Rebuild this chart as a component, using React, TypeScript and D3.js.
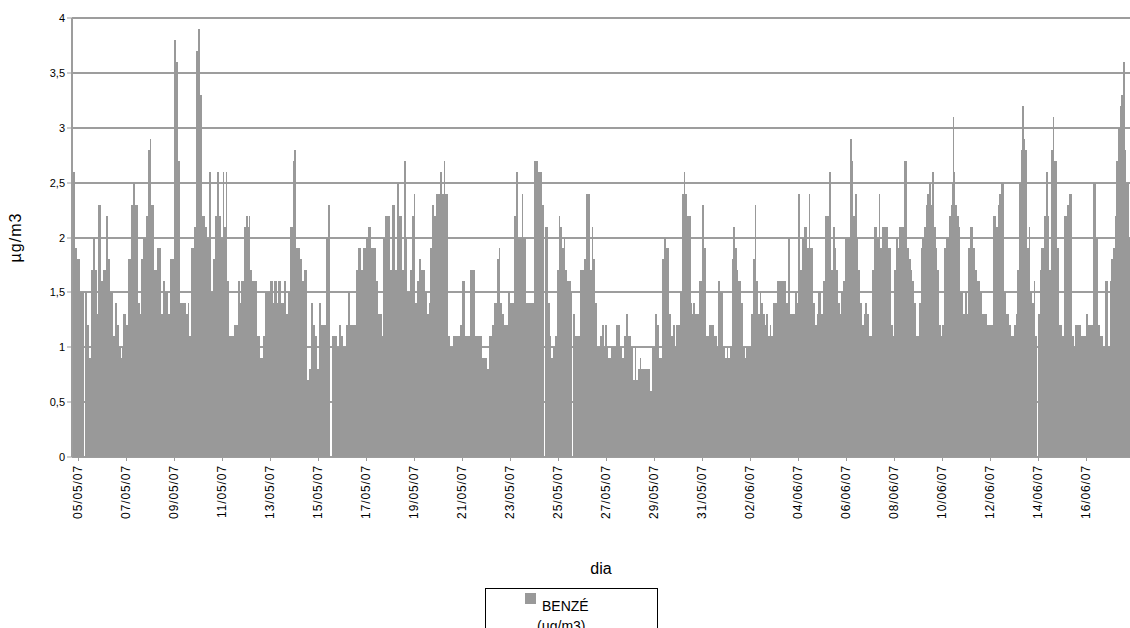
import React from "react";
import * as d3 from "d3";

// Hourly benzene concentration (µg/m3), split into blocks of consecutive hours.
const block01 = [
  2.6, 2.6, 2.6, 1.9, 1.9, 1.8, 1.8, 1.8, 1.5, 1.5,
  1.5, 1.5, 0, 1.5, 1.5, 1.2, 1.2, 0.9, 0.9, 1.7,
  1.7, 2.0, 2.0, 1.7, 1.7, 1.3, 2.3, 2.3, 2.3, 1.6,
  1.6, 1.7, 1.7, 1.7, 2.2, 2.2, 1.8, 1.8, 1.5, 1.5,
  1.5, 1.1, 1.1, 1.4, 1.4, 1.2, 1.2, 1.0, 1.0, 0.9,
  1.0, 1.3, 1.3, 1.3, 1.2, 1.2, 1.8, 1.8, 1.8, 2.3,
  2.3, 2.5, 2.5, 2.3, 2.3, 2.3, 1.4, 1.4, 1.3, 1.8,
  1.8, 2.0, 2.0, 2.0, 2.2, 2.2, 2.8, 2.8, 2.9, 2.3,
  2.3, 2.3, 1.7, 1.7, 1.7, 1.9, 1.9, 1.9,
];
const block02 = [
  1.9, 1.3, 1.3, 1.6, 1.6, 1.5, 1.5, 1.5, 1.3, 1.3,
  1.8, 1.8, 1.8, 1.8, 3.8, 3.8, 3.6, 3.6, 2.7, 2.7,
  1.4, 1.4, 1.4, 1.4, 1.4, 1.4, 1.3, 1.3, 1.4, 1.1,
  1.1, 1.9, 1.9, 1.9, 2.1, 2.1, 3.7, 3.7, 3.9, 3.9,
  3.3, 3.3, 2.2, 2.2, 2.2, 2.1, 2.1, 2.0, 2.0, 2.6,
  2.6, 1.5, 1.5, 1.8, 1.8, 2.2, 2.2, 2.6, 2.6, 2.2,
  2.2, 2.0, 2.0, 2.6, 2.1, 2.1, 2.6, 1.6, 1.6, 1.1,
  1.1, 1.1, 1.1, 1.1, 1.2, 1.2, 1.2, 1.2, 1.6, 1.6,
  1.4, 1.6, 1.6, 1.6, 2.1, 2.1, 2.2, 2.2,
];
const block03 = [
  2.1, 2.2, 1.7, 1.7, 1.6, 1.6, 1.6, 1.6, 1.6, 1.1,
  1.1, 1.1, 0.9, 0.9, 0.9, 1.1, 1.1, 1.5, 1.5, 1.5,
  1.5, 1.5, 1.6, 1.6, 1.6, 1.4, 1.6, 1.6, 1.6, 1.4,
  1.6, 1.6, 1.6, 1.4, 1.4, 1.4, 1.6, 1.6, 1.3, 1.3,
  1.5, 1.5, 2.1, 2.1, 2.1, 2.7, 2.8, 2.8, 1.9, 1.9,
  1.9, 1.9, 1.8, 1.8, 1.6, 1.6, 1.7, 1.7, 1.7, 0.7,
  0.7, 0.8, 0.8, 1.4, 1.4, 1.2, 1.2, 1.1, 1.1, 0.8,
  0.8, 1.4, 1.4, 1.2, 1.2, 1.2, 1.2, 1.2, 2.0, 2.0,
  2.3, 2.3, 0, 0, 1.1, 1.1, 1.1, 1.1,
];
const block04 = [
  1.1, 1.0, 1.0, 1.2, 1.2, 1.1, 1.1, 1.0, 1.0, 1.0,
  1.2, 1.2, 1.5, 1.5, 1.2, 1.2, 1.2, 1.2, 1.2, 1.2,
  1.7, 1.7, 1.9, 1.9, 1.9, 1.7, 1.7, 1.9, 1.9, 1.9,
  2.0, 2.0, 2.1, 2.1, 2.1, 1.9, 1.9, 1.9, 1.9, 1.9,
  1.6, 1.6, 1.3, 1.3, 1.3, 1.3, 1.1, 2.0, 2.0, 2.2,
  2.2, 2.2, 2.2, 2.2, 1.7, 1.7, 2.3, 2.3, 2.3, 1.7,
  1.7, 2.5, 2.5, 2.2, 2.2, 2.2, 1.7, 1.7, 2.7, 2.7,
  2.0, 1.5, 1.5, 1.5, 1.7, 1.7, 2.2, 2.2, 2.4, 1.4,
  1.4, 1.6, 1.6, 1.8, 1.8, 1.7, 1.7, 1.7,
];
const block05 = [
  1.7, 1.5, 1.5, 1.3, 1.3, 1.4, 1.9, 1.9, 2.3, 2.3,
  2.2, 2.2, 2.4, 2.4, 2.4, 2.4, 2.6, 2.6, 2.4, 2.4,
  2.7, 2.4, 2.4, 2.4, 1.1, 1.1, 1.0, 1.0, 1.0, 1.1,
  1.1, 1.1, 1.1, 1.1, 1.1, 1.1, 1.2, 1.2, 1.6, 1.6,
  1.6, 1.1, 1.1, 1.1, 1.1, 1.1, 1.7, 1.7, 1.7, 1.7,
  1.7, 1.1, 1.1, 1.1, 1.1, 1.1, 1.1, 1.1, 0.9, 0.9,
  0.9, 0.9, 0.9, 0.8, 0.8, 1.1, 1.1, 1.1, 1.2, 1.2,
  1.4, 1.4, 1.4, 1.8, 1.8, 1.9, 1.4, 1.4, 1.3, 1.3,
  1.2, 1.2, 1.2, 1.2, 1.5, 1.5, 1.4, 1.4,
];
const block06 = [
  1.4, 1.4, 2.2, 2.2, 2.6, 2.6, 2.0, 2.0, 2.0, 2.0,
  2.4, 2.0, 2.0, 2.0, 1.4, 1.4, 1.4, 1.4, 1.4, 1.4,
  1.4, 1.4, 2.7, 2.7, 2.7, 2.7, 2.6, 2.6, 2.6, 2.6,
  2.3, 2.3, 0, 2.1, 2.1, 2.1, 1.4, 1.4, 1.1, 0.9,
  0.9, 1.0, 1.0, 1.1, 1.1, 1.7, 1.7, 2.2, 2.1, 2.1,
  1.9, 1.9, 2.0, 1.7, 1.7, 1.6, 1.6, 1.6, 1.6, 1.5,
  0, 1.3, 1.3, 1.1, 1.1, 1.1, 1.1, 1.1, 1.7, 1.7,
  1.7, 1.7, 1.8, 1.8, 2.4, 2.4, 2.4, 2.4, 1.7, 1.7,
  2.1, 1.8, 1.8, 1.4, 1.4, 1.0, 1.0, 1.0,
];
const block07 = [
  1.1, 1.1, 1.2, 1.2, 1.0, 1.2, 1.2, 1.0, 0.9, 0.9,
  0.9, 1.0, 1.0, 1.0, 1.0, 1.0, 1.2, 1.2, 1.2, 1.2,
  1.0, 1.0, 0.9, 0.9, 1.1, 1.1, 1.3, 1.3, 1.1, 1.1,
  1.1, 1.0, 1.0, 0.7, 0.7, 1.0, 0.7, 0.7, 0.8, 0.8,
  0.9, 0.8, 0.8, 0.8, 0.8, 0.8, 0.8, 0.8, 0.8, 0.8,
  0.6, 0.6, 1.0, 1.0, 1.0, 1.3, 1.3, 1.2, 1.2, 0.9,
  0.9, 0.9, 1.8, 1.8, 2.0, 2.0, 1.9, 1.9, 1.9, 1.3,
  1.3, 1.1, 1.1, 1.2, 1.2, 1.0, 1.2, 1.2, 1.2, 1.2,
  1.5, 1.5, 2.4, 2.4, 2.6, 2.4, 2.4, 2.2,
];
const block08 = [
  2.2, 2.2, 2.2, 1.4, 1.3, 1.4, 1.4, 1.3, 1.3, 1.3,
  1.3, 1.6, 1.6, 1.6, 2.3, 2.3, 1.9, 1.9, 1.1, 1.1,
  1.1, 1.2, 1.2, 1.2, 1.2, 1.2, 1.1, 1.1, 1.1, 1.0,
  1.6, 1.6, 1.5, 1.5, 1.5, 1.0, 1.0, 0.9, 0.9, 1.0,
  0.9, 0.9, 1.0, 1.0, 1.8, 2.1, 2.1, 1.9, 1.9, 1.7,
  1.6, 1.6, 1.6, 1.4, 1.4, 1.0, 1.0, 0.9, 1.0, 1.0,
  1.0, 1.0, 1.0, 1.3, 1.3, 1.8, 1.8, 2.3, 1.6, 1.6,
  1.3, 1.3, 1.5, 1.4, 1.4, 1.3, 1.3, 1.2, 1.3, 1.3,
  1.1, 1.1, 1.2, 1.1, 1.1, 1.4, 1.4, 1.4,
];
const block09 = [
  1.4, 1.6, 1.6, 1.6, 1.6, 1.6, 1.6, 1.6, 1.6, 1.6,
  1.4, 1.4, 2.0, 2.0, 1.3, 1.3, 1.3, 1.3, 1.3, 1.5,
  1.5, 1.4, 2.4, 2.4, 1.7, 1.7, 2.0, 2.0, 2.1, 2.1,
  2.1, 1.9, 1.9, 2.4, 1.9, 1.9, 1.9, 1.4, 1.4, 1.2,
  1.2, 1.3, 1.5, 1.5, 1.5, 1.3, 1.3, 1.6, 1.6, 2.2,
  2.2, 2.2, 2.2, 2.6, 2.6, 1.7, 1.7, 2.1, 2.1, 1.9,
  1.7, 1.7, 1.4, 1.4, 1.3, 1.5, 1.5, 1.6, 1.6, 2.0,
  2.0, 2.0, 2.0, 2.0, 2.9, 2.9, 2.7, 2.2, 2.2, 2.4,
  2.4, 2.0, 1.7, 1.7, 1.4, 1.4, 1.2, 1.2,
];
const block10 = [
  1.3, 1.4, 1.4, 1.3, 1.3, 1.1, 1.1, 1.1, 1.7, 1.7,
  2.1, 2.1, 2.1, 2.0, 2.0, 2.4, 1.9, 1.9, 2.1, 2.1,
  2.1, 2.1, 2.1, 2.1, 1.9, 1.9, 1.9, 1.2, 1.2, 1.1,
  1.7, 1.7, 2.0, 2.0, 1.9, 2.1, 2.1, 2.1, 2.1, 2.1,
  2.7, 2.7, 2.7, 1.9, 1.9, 1.8, 1.8, 1.7, 1.6, 1.6,
  1.4, 1.4, 1.1, 1.1, 1.1, 1.4, 1.4, 1.9, 2.0, 2.0,
  2.1, 2.1, 2.3, 2.4, 2.4, 2.5, 2.5, 2.3, 2.6, 2.6,
  2.1, 2.1, 1.9, 1.7, 1.7, 1.2, 1.2, 1.1, 1.2, 1.2,
  1.9, 1.9, 2.0, 2.0, 2.0, 2.2, 2.2, 2.3,
];
const block11 = [
  2.5, 3.1, 2.6, 2.3, 2.3, 2.2, 2.2, 2.1, 1.5, 1.5,
  1.5, 1.3, 1.3, 1.5, 1.5, 1.3, 1.9, 1.9, 2.1, 2.1,
  2.1, 1.9, 1.9, 1.7, 1.7, 1.6, 1.6, 1.6, 1.5, 1.5,
  1.3, 1.3, 1.3, 1.3, 1.3, 1.2, 1.2, 1.2, 1.2, 1.2,
  1.2, 2.2, 2.2, 2.2, 2.1, 2.1, 2.3, 2.4, 2.4, 2.5,
  2.5, 2.5, 1.5, 1.5, 1.3, 1.3, 1.3, 1.2, 1.2, 1.1,
  1.1, 1.1, 1.2, 1.2, 1.3, 1.7, 1.7, 2.5, 2.5, 2.8,
  3.2, 3.2, 2.9, 2.8, 2.8, 1.9, 1.9, 2.1, 1.5, 1.5,
  1.4, 1.4, 1.6, 1.1, 1.1, 0, 1.3, 1.3,
];
const block12 = [
  1.7, 1.9, 1.9, 1.9, 2.2, 2.2, 2.6, 2.6, 2.2, 1.7,
  1.7, 2.8, 2.8, 3.1, 2.7, 2.7, 2.7, 1.9, 1.9, 1.2,
  1.2, 1.2, 1.1, 1.1, 2.2, 2.2, 2.2, 2.3, 2.3, 2.4,
  2.4, 2.4, 1.1, 1.1, 1.0, 1.2, 1.2, 1.2, 1.2, 1.2,
  1.2, 1.1, 1.1, 1.1, 1.1, 1.1, 1.3, 1.3, 1.2, 1.2,
  1.2, 1.2, 1.2, 2.5, 2.5, 2.5, 2.0, 2.0, 1.2, 1.2,
  1.1, 1.1, 1.1, 1.0, 1.0, 1.6, 1.6, 1.6, 1.0, 1.0,
  1.6, 1.8, 1.8, 1.9, 1.9, 2.2, 2.7, 2.7, 3.0, 3.0,
  3.2, 3.3, 3.3, 3.6, 3.6, 2.8, 2.5, 2.5, 2.5, 2.0,
];

const benzene = [
  ...block01, ...block02, ...block03, ...block04, ...block05, ...block06,
  ...block07, ...block08, ...block09, ...block10, ...block11, ...block12,
];

const yTicks = [0, 0.5, 1, 1.5, 2, 2.5, 3, 3.5, 4];

const dayLabels = [
  "05/05/07", "07/05/07", "09/05/07", "11/05/07", "13/05/07", "15/05/07",
  "17/05/07", "19/05/07", "21/05/07", "23/05/07", "25/05/07", "27/05/07",
  "29/05/07", "31/05/07", "02/06/07", "04/06/07", "06/06/07", "08/06/07",
  "10/06/07", "12/06/07", "14/06/07", "16/06/07",
];
const firstLabelHour = 6;
const hoursPerLabel = 48;

const FONT = "'Liberation Sans', Arial, sans-serif";
const BAR = "#999999";
const GRID = "#9d9d9d";

export default function App() {
  const width = 1130;
  const height = 628;
  const left = 72;
  const right = 1130;
  const top = 18;
  const bottom = 457;

  const x = d3
    .scaleBand<number>()
    .domain(d3.range(benzene.length))
    .range([left, right])
    .padding(0);
  const y = d3.scaleLinear().domain([0, 4]).range([bottom, top]);

  const fmt = (v: number) => String(v).replace(".", ",");

  return (
    <svg
      width={width}
      height={height}
      style={{ position: "absolute", left: 0, top: 0, background: "#fff" }}
      fontFamily={FONT}
    >
      {/* horizontal gridlines */}
      {yTicks.map((t) => (
        <line
          key={"g" + t}
          x1={left}
          x2={right}
          y1={Math.round(y(t))}
          y2={Math.round(y(t))}
          stroke={GRID}
          strokeWidth={2}
        />
      ))}

      {/* hourly bars */}
      <g shapeRendering="crispEdges">
        {benzene.map((v, i) =>
          v > 0 ? (
            <rect
              key={i}
              x={x(i)}
              y={y(v)}
              width={x.bandwidth()}
              height={bottom - y(v)}
              fill={BAR}
            />
          ) : null
        )}
      </g>

      {/* y axis */}
      <line x1={left} x2={left} y1={top} y2={bottom} stroke={GRID} strokeWidth={2} />
      {yTicks.map((t) => (
        <g key={"t" + t} transform={`translate(0,${Math.round(y(t))})`}>
          <line x1={left - 5} x2={left} stroke={GRID} strokeWidth={1} />
          <text x={left - 7} dy="0.32em" textAnchor="end" fontSize={11} fill="#000">
            {fmt(t)}
          </text>
        </g>
      ))}
      <text
        transform={`translate(21,${(top + bottom) / 2}) rotate(-90)`}
        textAnchor="middle"
        fontSize={16}
        letterSpacing={1}
        fill="#000"
      >
        µg/m3
      </text>

      {/* x axis labels */}
      {dayLabels.map((d, k) => {
        const idx = firstLabelHour + k * hoursPerLabel;
        const cx = (x(idx) ?? 0) + x.bandwidth() / 2;
        return (
          <g key={d}>
            <line x1={cx} x2={cx} y1={bottom} y2={bottom + 4} stroke={GRID} />
            <text
              transform={`translate(${cx},${bottom + 8}) rotate(-90)`}
              textAnchor="end"
              dy="0.32em"
              fontSize={12}
              letterSpacing={0.9}
              fill="#000"
            >
              {d}
            </text>
          </g>
        );
      })}
      <text x={601} y={574} textAnchor="middle" fontSize={16} fill="#000">
        dia
      </text>

      {/* legend */}
      <rect x={485.5} y={588.5} width={172} height={60} fill="#fff" stroke="#000" strokeWidth={1} />
      <rect x={525} y={593} width={11} height={11} fill={BAR} />
      <text x={542} y={611} fontSize={14} fill="#000">
        BENZÉ
      </text>
      <text x={537} y={631} fontSize={14} fill="#000">
        (µg/m3)
      </text>
    </svg>
  );
}
